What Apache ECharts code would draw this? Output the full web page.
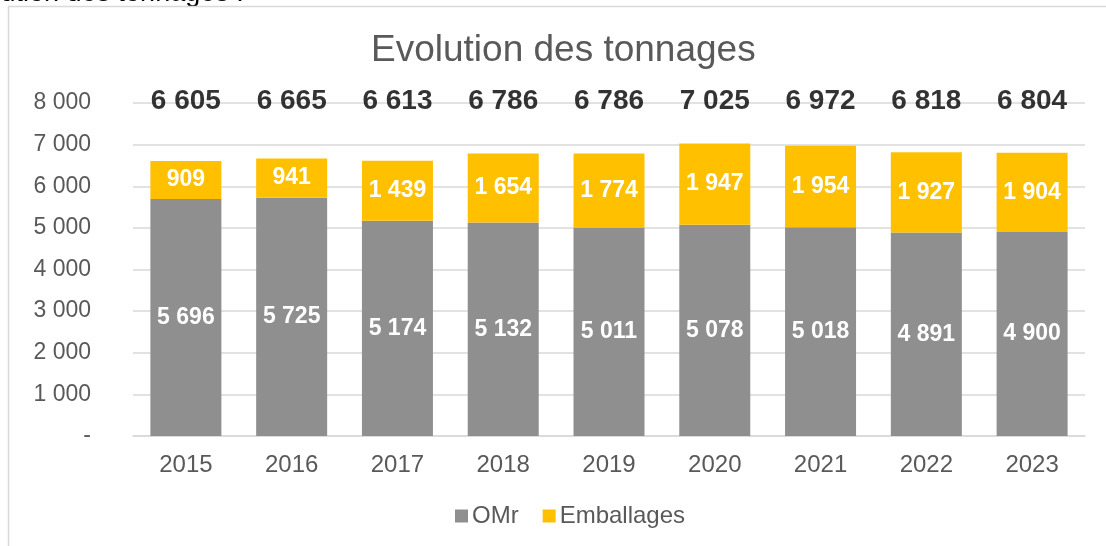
<!DOCTYPE html>
<html>
<head>
<meta charset="utf-8">
<script src="https://cdn.jsdelivr.net/npm/echarts@6/dist/echarts.min.js"></script>
<style>
  html, body { margin: 0; padding: 0; background: #fff; }
  #main { width: 1106px; height: 546px; }
</style>
</head>
<body>
<div id="main"></div>
<script type="text/javascript">
    var years = ['2015', '2016', '2017', '2018', '2019', '2020', '2021', '2022', '2023'];
    var omr = [5696, 5725, 5174, 5132, 5011, 5078, 5018, 4891, 4900];
    var emballages = [909, 941, 1439, 1654, 1774, 1947, 1954, 1927, 1904];
    var totals = [6605, 6665, 6613, 6786, 6786, 7025, 6972, 6818, 6804];

    // espace pour les milliers, comme dans Excel
    function fmt(v) {
        if (v === 0) return '-';
        return String(v).replace(/\B(?=(\d{3})+(?!\d))/g, ' ');
    }

    var totalLabelLevel = 8030;

    var myChart = echarts.init(document.getElementById('main'));
    var myOption = {
        backgroundColor: '#fff',
        animation: false,
        textStyle: { fontFamily: '"Liberation Sans", Arial, sans-serif' },
        graphic: [
            {
                type: 'text',
                style: {
                    x: -52, y: 7, verticalAlign: 'bottom',
                    text: 'Evolution des tonnages :', font: '27px "Liberation Sans", Arial', fill: '#000'
                }
            },
            {
                type: 'rect', shape: { x: 8.5, y: 6.5, width: 1200, height: 600 },
                style: { fill: 'none', stroke: '#d9d9d9', lineWidth: 1.5 }
            }
        ],
        title: {
            text: 'Evolution des tonnages',
            left: 366,
            top: 27,
            textStyle: { color: '#595959', fontSize: 37, fontWeight: 'normal', fontFamily: '"Liberation Sans", Arial' }
        },
        legend: {
            top: 499,
            left: 450,
            itemWidth: 13,
            itemHeight: 13,
            itemGap: 24,
            icon: 'rect',
            data: ['OMr', 'Emballages'],
            textStyle: { color: '#595959', fontSize: 24, padding: [0, 0, 0, -1] }
        },
        grid: { left: 133, right: 21, top: 103, bottom: 110 },
        xAxis: {
            type: 'category',
            data: years,
            axisLine: { lineStyle: { color: '#d9d9d9', width: 1.5 } },
            axisTick: { show: false },
            axisLabel: { color: '#595959', fontSize: 24, margin: 17 }
        },
        yAxis: {
            type: 'value',
            min: 0,
            max: 8000,
            interval: 1000,
            axisLine: { show: false },
            axisTick: { show: false },
            splitLine: { lineStyle: { color: '#d9d9d9', width: 1.5 } },
            axisLabel: { color: '#595959', fontSize: 23, margin: 42, formatter: fmt }
        },
        series: [
            {
                name: 'OMr',
                type: 'bar',
                stack: 'total',
                barWidth: 71,
                data: omr,
                itemStyle: { color: '#8f8f8f' },
                label: {
                    show: true, position: 'inside', color: '#fff', fontSize: 23, fontWeight: 'bold',
                    formatter: function (p) { return fmt(p.value); }
                }
            },
            {
                name: 'Emballages',
                type: 'bar',
                stack: 'total',
                barWidth: 71,
                data: emballages,
                itemStyle: { color: '#ffc000' },
                label: {
                    show: true, position: 'inside', color: '#fff', fontSize: 23, fontWeight: 'bold',
                    formatter: function (p) { return fmt(p.value); }
                }
            },
            {
                name: 'Total',
                type: 'scatter',
                symbolSize: 2,
                silent: true,
                clip: false,
                itemStyle: { color: 'rgba(0,0,0,0)' },
                data: totals.map(function (t, i) { return [i, totalLabelLevel]; }),
                label: {
                    show: true, position: 'inside', color: '#000', fontSize: 28, fontWeight: 'bold',
                    formatter: function (p) { return fmt(totals[p.dataIndex]); }
                },
                labelLayout: { hideOverlap: false },
                z: 5
            }
        ]
    };
    myChart.setOption(myOption);
</script>
</body>
</html>
